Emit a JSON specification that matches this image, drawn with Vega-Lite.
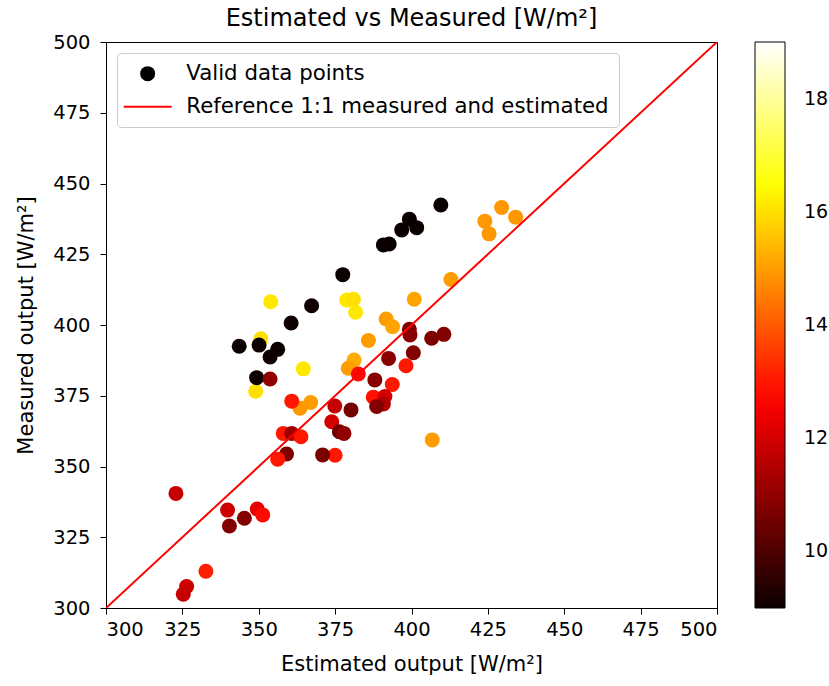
{
 "$schema": "https://vega.github.io/schema/vega-lite/v6.json",
 "width": 611,
 "height": 566,
 "autosize": "none",
 "padding": {"left": 106, "top": 42, "right": 112, "bottom": 78},
 "background": "white",
 "title": {"text": "Estimated vs Measured [W/m²]", "fontSize": 24, "font": "DejaVu Sans", "fontWeight": "normal", "color": "black", "anchor": "middle", "offset": 1},
 "config": {
  "font": "DejaVu Sans",
  "view": {"stroke": "black", "strokeWidth": 1},
  "axis": {"grid": false, "domainColor": "black", "tickColor": "black", "tickSize": 6, "labelColor": "black", "labelFontSize": 19.5, "titleColor": "black", "titleFontSize": 21, "titleFontWeight": "normal", "labelFont": "DejaVu Sans", "titleFont": "DejaVu Sans"}
 },
 "layer": [
  {
   "data": {"values": [
    {"est": 353.9, "meas": 408.2, "v": 16.1, "series": "Valid data points"},
    {"est": 378.8, "meas": 408.8, "v": 16.1, "series": "Valid data points"},
    {"est": 381.0, "meas": 409.1, "v": 16.0, "series": "Valid data points"},
    {"est": 381.7, "meas": 404.5, "v": 16.1, "series": "Valid data points"},
    {"est": 350.7, "meas": 395.1, "v": 16.0, "series": "Valid data points"},
    {"est": 364.6, "meas": 384.5, "v": 16.1, "series": "Valid data points"},
    {"est": 349.0, "meas": 376.6, "v": 16.0, "series": "Valid data points"},
    {"est": 409.6, "meas": 442.4, "v": 9.0, "series": "Valid data points"},
    {"est": 399.3, "meas": 437.4, "v": 9.0, "series": "Valid data points"},
    {"est": 401.7, "meas": 434.4, "v": 9.0, "series": "Valid data points"},
    {"est": 396.8, "meas": 433.6, "v": 9.0, "series": "Valid data points"},
    {"est": 390.8, "meas": 428.3, "v": 9.0, "series": "Valid data points"},
    {"est": 392.7, "meas": 428.6, "v": 9.0, "series": "Valid data points"},
    {"est": 377.5, "meas": 417.8, "v": 9.0, "series": "Valid data points"},
    {"est": 367.3, "meas": 406.8, "v": 9.05, "series": "Valid data points"},
    {"est": 360.6, "meas": 400.7, "v": 9.05, "series": "Valid data points"},
    {"est": 343.6, "meas": 392.5, "v": 9.0, "series": "Valid data points"},
    {"est": 350.1, "meas": 392.9, "v": 9.0, "series": "Valid data points"},
    {"est": 356.2, "meas": 391.4, "v": 9.0, "series": "Valid data points"},
    {"est": 353.7, "meas": 388.7, "v": 9.05, "series": "Valid data points"},
    {"est": 349.3, "meas": 381.4, "v": 9.0, "series": "Valid data points"},
    {"est": 429.5, "meas": 441.5, "v": 14.9, "series": "Valid data points"},
    {"est": 424.0, "meas": 436.7, "v": 14.9, "series": "Valid data points"},
    {"est": 434.1, "meas": 438.1, "v": 14.9, "series": "Valid data points"},
    {"est": 425.4, "meas": 432.2, "v": 14.9, "series": "Valid data points"},
    {"est": 412.9, "meas": 416.1, "v": 15.0, "series": "Valid data points"},
    {"est": 400.9, "meas": 409.1, "v": 15.1, "series": "Valid data points"},
    {"est": 391.7, "meas": 402.1, "v": 15.0, "series": "Valid data points"},
    {"est": 393.8, "meas": 399.4, "v": 15.1, "series": "Valid data points"},
    {"est": 385.9, "meas": 394.5, "v": 15.0, "series": "Valid data points"},
    {"est": 381.2, "meas": 387.6, "v": 15.2, "series": "Valid data points"},
    {"est": 379.3, "meas": 384.7, "v": 15.0, "series": "Valid data points"},
    {"est": 363.5, "meas": 370.6, "v": 14.9, "series": "Valid data points"},
    {"est": 367.0, "meas": 372.6, "v": 15.0, "series": "Valid data points"},
    {"est": 406.8, "meas": 359.4, "v": 15.0, "series": "Valid data points"},
    {"est": 399.3, "meas": 398.5, "v": 10.8, "series": "Valid data points"},
    {"est": 399.5, "meas": 396.5, "v": 10.9, "series": "Valid data points"},
    {"est": 406.6, "meas": 395.3, "v": 10.7, "series": "Valid data points"},
    {"est": 410.6, "meas": 396.7, "v": 10.8, "series": "Valid data points"},
    {"est": 400.6, "meas": 390.2, "v": 10.8, "series": "Valid data points"},
    {"est": 392.5, "meas": 388.2, "v": 10.9, "series": "Valid data points"},
    {"est": 398.2, "meas": 385.6, "v": 13.0, "series": "Valid data points"},
    {"est": 382.6, "meas": 382.7, "v": 12.8, "series": "Valid data points"},
    {"est": 388.0, "meas": 380.6, "v": 10.9, "series": "Valid data points"},
    {"est": 393.7, "meas": 379.0, "v": 13.0, "series": "Valid data points"},
    {"est": 387.5, "meas": 374.5, "v": 12.9, "series": "Valid data points"},
    {"est": 391.3, "meas": 374.7, "v": 12.0, "series": "Valid data points"},
    {"est": 390.8, "meas": 372.1, "v": 11.5, "series": "Valid data points"},
    {"est": 388.6, "meas": 371.2, "v": 10.8, "series": "Valid data points"},
    {"est": 380.2, "meas": 370.0, "v": 10.6, "series": "Valid data points"},
    {"est": 374.9, "meas": 371.4, "v": 11.8, "series": "Valid data points"},
    {"est": 373.9, "meas": 365.8, "v": 12.0, "series": "Valid data points"},
    {"est": 376.4, "meas": 362.3, "v": 10.5, "series": "Valid data points"},
    {"est": 377.9, "meas": 361.7, "v": 11.0, "series": "Valid data points"},
    {"est": 375.0, "meas": 354.0, "v": 13.0, "series": "Valid data points"},
    {"est": 353.7, "meas": 380.9, "v": 11.0, "series": "Valid data points"},
    {"est": 360.8, "meas": 373.1, "v": 13.0, "series": "Valid data points"},
    {"est": 358.0, "meas": 361.7, "v": 13.0, "series": "Valid data points"},
    {"est": 360.8, "meas": 361.7, "v": 11.2, "series": "Valid data points"},
    {"est": 363.8, "meas": 360.5, "v": 13.0, "series": "Valid data points"},
    {"est": 359.1, "meas": 354.4, "v": 10.7, "series": "Valid data points"},
    {"est": 370.9, "meas": 354.1, "v": 10.7, "series": "Valid data points"},
    {"est": 356.2, "meas": 352.6, "v": 13.0, "series": "Valid data points"},
    {"est": 322.9, "meas": 340.5, "v": 11.8, "series": "Valid data points"},
    {"est": 339.8, "meas": 334.6, "v": 11.9, "series": "Valid data points"},
    {"est": 340.4, "meas": 329.0, "v": 10.8, "series": "Valid data points"},
    {"est": 345.3, "meas": 331.7, "v": 10.8, "series": "Valid data points"},
    {"est": 349.5, "meas": 335.0, "v": 12.3, "series": "Valid data points"},
    {"est": 351.3, "meas": 332.9, "v": 12.8, "series": "Valid data points"},
    {"est": 332.7, "meas": 313.0, "v": 13.1, "series": "Valid data points"},
    {"est": 326.4, "meas": 307.6, "v": 11.9, "series": "Valid data points"},
    {"est": 325.3, "meas": 304.9, "v": 11.8, "series": "Valid data points"}
   ]},
   "mark": {"type": "point", "filled": true, "size": 225, "opacity": 1, "strokeWidth": 0},
   "encoding": {
    "x": {"field": "est", "type": "quantitative", "scale": {"domain": [300, 500], "nice": false, "zero": false}, "axis": {"values": [300, 325, 350, 375, 400, 425, 450, 475, 500], "title": "Estimated output [W/m²]", "labelPadding": 6, "titlePadding": 15}},
    "y": {"field": "meas", "type": "quantitative", "scale": {"domain": [300, 500], "nice": false, "zero": false}, "axis": {"values": [300, 325, 350, 375, 400, 425, 450, 475, 500], "title": "Measured output [W/m²]", "labelPadding": 10, "titlePadding": 16}},
    "color": {"field": "v", "type": "quantitative", "scale": {"domain": [9, 12.65, 16.46, 19], "range": ["#0b0000", "#ff0000", "#ffff00", "#ffffff"], "interpolate": "rgb"},
     "legend": {"title": null, "orient": "right", "direction": "vertical", "gradientLength": 566, "gradientThickness": 30, "values": [10, 12, 14, 16, 18], "labelFontSize": 19, "labelColor": "black", "offset": 38, "labelOffset": 19, "gradientStrokeColor": "black", "gradientStrokeWidth": 1, "labelOverlap": false, "padding": 0}},
    "shape": {"field": "series", "type": "nominal", "scale": {"domain": ["Valid data points", "Reference 1:1 measured and estimated"], "range": ["circle", "M-3.2,0L3.2,0"]},
     "legend": {"title": null, "orient": "top-left", "offset": 11, "padding": 10, "fillColor": "white", "strokeColor": "#cccccc", "cornerRadius": 4, "labelFontSize": 21.3, "labelLimit": 800, "labelColor": "black", "symbolSize": 225, "symbolOffset": 10, "labelOffset": 28, "rowPadding": 9, "symbolStrokeWidth": 2, "symbolFillColor": "black"}},
    "stroke": {"field": "series", "type": "nominal", "scale": {"domain": ["Valid data points", "Reference 1:1 measured and estimated"], "range": ["transparent", "red"]},
     "legend": {"title": null, "orient": "top-left", "offset": 11, "padding": 10, "fillColor": "white", "strokeColor": "#cccccc", "cornerRadius": 4, "labelFontSize": 21.3, "labelLimit": 800, "labelColor": "black", "symbolSize": 225, "symbolOffset": 10, "labelOffset": 28, "rowPadding": 9, "symbolStrokeWidth": 2, "symbolFillColor": "black"}}
   }
  },
  {
   "data": {"values": [{"est": 300, "meas": 300}, {"est": 500, "meas": 500}]},
   "mark": {"type": "line", "color": "red", "strokeWidth": 2, "clip": true},
   "encoding": {"x": {"field": "est", "type": "quantitative"}, "y": {"field": "meas", "type": "quantitative"}}
  }
 ]
}
